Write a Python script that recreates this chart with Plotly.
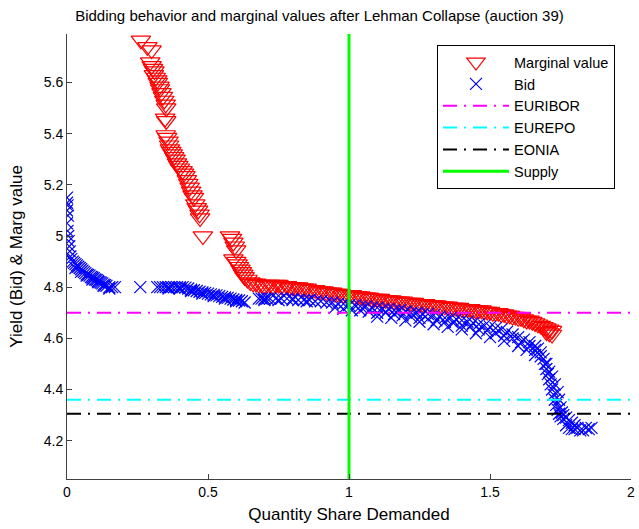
import plotly.graph_objects as go

# Marginal value (red triangles)
marg_x = [0.262, 0.285, 0.30, 0.295, 0.30, 0.305, 0.31, 0.308, 0.315, 0.32, 0.322, 0.328, 0.33, 0.335,
          0.34, 0.345, 0.35, 0.352, 0.348, 0.352, 0.35, 0.355, 0.36, 0.362, 0.365, 0.37, 0.375, 0.38,
          0.385, 0.39, 0.395, 0.40, 0.41, 0.415, 0.42, 0.425, 0.43, 0.435, 0.44, 0.445, 0.45, 0.455,
          0.46, 0.465, 0.47, 0.472, 0.482,
          0.578, 0.585, 0.59, 0.595, 0.60, 0.59, 0.60, 0.605, 0.61, 0.615, 0.62, 0.625, 0.63, 0.64,
          0.65, 0.66,
          0.67, 0.68, 0.69, 0.70, 0.71, 0.72, 0.73, 0.74, 0.75, 0.76, 0.77, 0.78, 0.79, 0.80,
          0.81, 0.82, 0.83, 0.84, 0.85, 0.86, 0.87, 0.88, 0.89, 0.90,
          0.91, 0.92, 0.93, 0.94, 0.95, 0.96, 0.97, 0.98, 0.99, 1.00,
          1.01, 1.02, 1.03, 1.04, 1.05, 1.06, 1.07, 1.08, 1.09, 1.10,
          1.11, 1.12, 1.13, 1.14, 1.15, 1.16, 1.17, 1.18, 1.19, 1.20,
          1.21, 1.22, 1.23, 1.24, 1.25, 1.26, 1.27, 1.28, 1.29, 1.30,
          1.31, 1.32, 1.33, 1.34, 1.35, 1.36, 1.37, 1.38, 1.39, 1.40,
          1.41, 1.42, 1.43, 1.44, 1.45, 1.46, 1.47, 1.48, 1.49, 1.50,
          1.51, 1.52, 1.53, 1.54, 1.55, 1.56, 1.57, 1.58, 1.59, 1.60,
          1.61, 1.62, 1.63, 1.64, 1.65, 1.66, 1.67, 1.68, 1.69, 1.70,
          1.71, 1.72, 1.70, 1.71, 1.72]
marg_y = [5.765, 5.74, 5.727, 5.68, 5.665, 5.655, 5.645, 5.63, 5.62, 5.61, 5.60, 5.585, 5.575, 5.56,
          5.545, 5.53, 5.515, 5.50, 5.46, 5.45, 5.395, 5.385, 5.37, 5.355, 5.34, 5.33, 5.32, 5.31,
          5.30, 5.285, 5.275, 5.265, 5.255, 5.245, 5.235, 5.22, 5.205, 5.19, 5.175, 5.16, 5.15, 5.125,
          5.11, 5.10, 5.085, 5.07, 5.0,
          5.0, 4.99, 4.975, 4.96, 4.945, 4.91, 4.90, 4.89, 4.88, 4.87, 4.86, 4.85, 4.84, 4.83,
          4.82, 4.815,
          4.815, 4.81, 4.81, 4.805, 4.81, 4.81, 4.805, 4.81, 4.81, 4.805, 4.80, 4.805, 4.80, 4.80,
          4.80, 4.80, 4.795, 4.795, 4.795, 4.79, 4.79, 4.79, 4.785, 4.785,
          4.785, 4.78, 4.78, 4.78, 4.775, 4.775, 4.775, 4.77, 4.77, 4.77,
          4.77, 4.765, 4.765, 4.765, 4.76, 4.76, 4.76, 4.755, 4.755, 4.755,
          4.755, 4.75, 4.75, 4.75, 4.75, 4.745, 4.745, 4.745, 4.745, 4.74,
          4.74, 4.74, 4.74, 4.735, 4.735, 4.735, 4.735, 4.73, 4.73, 4.73,
          4.73, 4.725, 4.725, 4.725, 4.725, 4.72, 4.72, 4.72, 4.72, 4.715,
          4.715, 4.715, 4.715, 4.71, 4.71, 4.71, 4.71, 4.705, 4.705, 4.705,
          4.70, 4.70, 4.70, 4.695, 4.695, 4.69, 4.69, 4.685, 4.685, 4.68,
          4.68, 4.675, 4.67, 4.67, 4.665, 4.66, 4.655, 4.65, 4.645, 4.64,
          4.635, 4.63, 4.625, 4.62, 4.615]

# Bids (blue crosses)
bid_x = [0.0, 0.0, 0.002, 0.0, 0.003, 0.0, 0.002, 0.004, 0.006, 0.008, 0.01, 0.012, 0.015, 0.02,
         0.025, 0.03, 0.035, 0.04, 0.045, 0.05, 0.055, 0.06, 0.065, 0.07, 0.075, 0.08, 0.085, 0.09,
         0.095, 0.10, 0.105, 0.11, 0.115, 0.12, 0.125, 0.13, 0.135, 0.14, 0.15, 0.16, 0.17, 0.26,
         0.32, 0.33, 0.34, 0.35, 0.36, 0.37, 0.38, 0.39, 0.40, 0.41, 0.42, 0.43, 0.44, 0.45, 0.46,
         0.47, 0.48, 0.49, 0.50, 0.51, 0.52, 0.53, 0.54, 0.55, 0.56, 0.57, 0.58, 0.59, 0.60, 0.61, 0.62,
         0.68, 0.69, 0.70, 0.71, 0.72, 0.74, 0.76, 0.78, 0.80, 0.82, 0.84, 0.86, 0.88, 0.90, 0.92,
         0.94, 0.96, 0.98, 1.00, 1.02, 1.04, 1.06, 1.08, 1.10, 1.12, 1.14, 1.16, 1.18, 1.20, 1.22,
         1.24, 1.26, 1.28, 1.30, 1.32, 1.34, 1.36, 1.38, 1.40, 1.42, 1.44, 1.46, 1.48, 1.50, 1.52,
         1.54, 1.56, 1.58, 1.60, 1.62, 1.64, 1.66, 1.67, 1.68, 1.69, 1.695, 1.70, 1.705, 1.71, 1.715,
         1.72, 1.725, 1.73, 1.735, 1.74, 1.745, 1.75, 1.76, 1.77, 1.78, 1.79, 1.80, 1.82, 1.84, 1.86,
         0.03, 0.05, 0.07, 0.09, 0.11, 0.13, 0.15,
         0.36, 0.40, 0.44, 0.48, 0.52, 0.56, 0.60, 0.63,
         0.70, 0.75, 0.80, 0.85,
         0.95, 0.98, 1.01, 1.04, 1.07, 1.10, 1.13, 1.16, 1.19, 1.22, 1.25, 1.28, 1.31, 1.34, 1.37,
         1.40, 1.43, 1.46, 1.49, 1.52, 1.55, 1.58, 1.61, 1.64, 1.66, 1.68, 1.70, 1.71, 1.72, 1.73,
         1.74, 1.745, 1.75, 1.755, 1.76, 1.77, 1.78, 1.79, 1.80, 1.81, 1.83, 1.85,
         1.10, 1.15, 1.20, 1.25, 1.30, 1.35, 1.40, 1.45, 1.50, 1.55, 1.60, 1.63, 1.66]
bid_y = [5.15, 5.13, 5.12, 5.10, 5.08, 5.05, 5.02, 5.0, 4.98, 4.96, 4.94, 4.92, 4.91, 4.90,
         4.895, 4.89, 4.885, 4.88, 4.875, 4.87, 4.865, 4.86, 4.855, 4.85, 4.848, 4.845, 4.84, 4.838,
         4.835, 4.83, 4.828, 4.825, 4.82, 4.818, 4.815, 4.81, 4.808, 4.805, 4.80, 4.80, 4.80, 4.80,
         4.80, 4.80, 4.80, 4.80, 4.80, 4.80, 4.80, 4.80, 4.80, 4.80, 4.798, 4.795, 4.79, 4.788, 4.785,
         4.782, 4.78, 4.778, 4.775, 4.772, 4.77, 4.768, 4.765, 4.762, 4.76, 4.758, 4.755, 4.752, 4.75, 4.748, 4.745,
         4.755, 4.755, 4.755, 4.755, 4.755, 4.755, 4.755, 4.755, 4.755, 4.75, 4.75, 4.75, 4.745, 4.745, 4.74,
         4.74, 4.735, 4.735, 4.73, 4.73, 4.725, 4.725, 4.72, 4.72, 4.715, 4.715, 4.71, 4.71, 4.705, 4.70,
         4.70, 4.695, 4.695, 4.69, 4.685, 4.68, 4.68, 4.675, 4.67, 4.665, 4.66, 4.655, 4.65, 4.645, 4.64,
         4.635, 4.625, 4.615, 4.605, 4.595, 4.585, 4.57, 4.56, 4.545, 4.52, 4.50, 4.48, 4.46, 4.44, 4.42,
         4.40, 4.38, 4.36, 4.34, 4.32, 4.305, 4.295, 4.285, 4.26, 4.25, 4.245, 4.245, 4.24, 4.25, 4.25,
         4.875, 4.86, 4.845, 4.83, 4.82, 4.805, 4.795,
         4.795, 4.795, 4.785, 4.775, 4.765, 4.755, 4.745, 4.74,
         4.75, 4.75, 4.75, 4.745,
         4.72, 4.715, 4.71, 4.71, 4.705, 4.70, 4.70, 4.695, 4.69, 4.685, 4.68, 4.675, 4.67, 4.665, 4.66,
         4.65, 4.645, 4.635, 4.63, 4.62, 4.61, 4.60, 4.585, 4.57, 4.555, 4.53, 4.50, 4.47, 4.45, 4.42,
         4.39, 4.36, 4.33, 4.31, 4.30, 4.29, 4.28, 4.27, 4.26, 4.25, 4.24, 4.245,
         4.685, 4.68, 4.67, 4.665, 4.655, 4.645, 4.635, 4.62, 4.605, 4.59, 4.57, 4.555, 4.535]

euribor = 4.70
eurepo = 4.36
eonia = 4.305
supply = 1.0
x_span = [0, 2]
y_span = [4.05, 5.79]

fig = go.Figure()
fig.add_trace(go.Scatter(x=marg_x, y=marg_y, mode="markers", name="Marginal value",
                         marker=dict(symbol="triangle-down-open", size=17, color="#ff0000",
                                     line=dict(width=1.2, color="#ff0000"))))
fig.add_trace(go.Scatter(x=bid_x, y=bid_y, mode="markers", name="Bid",
                         marker=dict(symbol="x-thin-open", size=12, color="#0000ff",
                                     line=dict(width=1.2, color="#0000ff"))))
dd = "14px,7px,2px,7px"
fig.add_trace(go.Scatter(x=x_span, y=[euribor, euribor], mode="lines", name="EURIBOR",
                         line=dict(color="#ff00ff", width=2, dash=dd)))
fig.add_trace(go.Scatter(x=x_span, y=[eurepo, eurepo], mode="lines", name="EUREPO",
                         line=dict(color="#00ffff", width=2, dash=dd)))
fig.add_trace(go.Scatter(x=x_span, y=[eonia, eonia], mode="lines", name="EONIA",
                         line=dict(color="#000000", width=2, dash=dd)))
fig.add_trace(go.Scatter(x=[supply, supply], y=y_span, mode="lines", name="Supply",
                         line=dict(color="#00ff00", width=3)))

fig.update_layout(
    width=639, height=529,
    margin=dict(l=67, r=8, t=34, b=50, autoexpand=False),
    paper_bgcolor="white", plot_bgcolor="white",
    font=dict(family="Liberation Sans, Arial, sans-serif", size=14, color="#000000"),
    title=dict(text="Bidding behavior and marginal values after Lehman Collapse (auction 39)",
               x=0.5, xanchor="center", y=1 - 16 / 529, yanchor="middle", font=dict(size=15)),
    showlegend=True,
    legend=dict(x=0.656, y=0.975, xanchor="left", yanchor="top", bgcolor="white",
                bordercolor="#000000", borderwidth=1, font=dict(size=14.5),
                itemwidth=66, tracegroupgap=0),
)
fig.update_xaxes(range=[0, 2], tickvals=[0, 0.5, 1, 1.5, 2], ticks="inside", ticklen=5,
                 automargin=False, ticklabeloverflow="allow",
                 showgrid=False, zeroline=False, showline=True, linecolor="#404040",
                 tickcolor="#404040", title=dict(text="Quantity Share Demanded", standoff=9))
fig.update_yaxes(range=y_span, tickvals=[4.2, 4.4, 4.6, 4.8, 5.0, 5.2, 5.4, 5.6],
                 ticktext=["4.2", "4.4", "4.6", "4.8", "5", "5.2", "5.4", "5.6"],
                 ticks="inside", ticklen=5, automargin=False,
                 showgrid=False, zeroline=False, showline=True, linecolor="#404040",
                 tickcolor="#404040", title=dict(text="Yield (Bid) & Marg value", standoff=16))

fig.write_html("out.html", config={"displayModeBar": False},
               post_script="document.body.style.margin='0';document.body.style.overflow='hidden';")
